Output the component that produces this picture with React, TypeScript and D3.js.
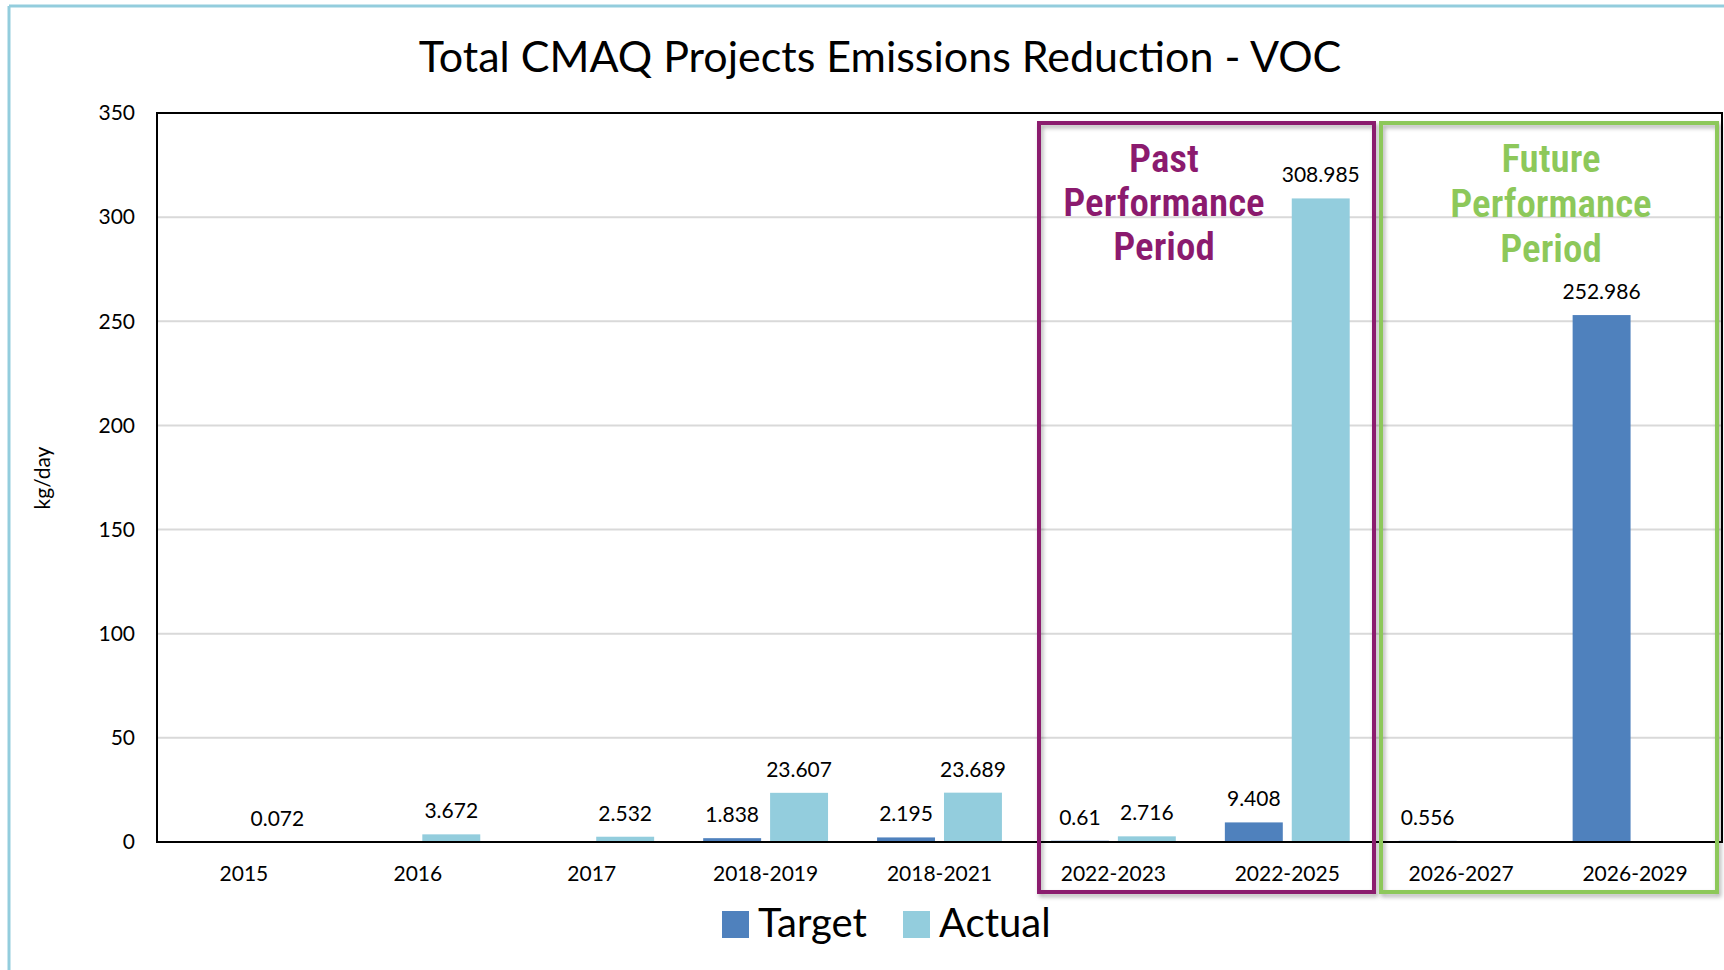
import React from "react";
import * as d3 from "d3";

const categories = ["2015", "2016", "2017", "2018-2019", "2018-2021", "2022-2023", "2022-2025", "2026-2027", "2026-2029"];
const targetValues: (number | null)[] = [null, null, null, 1.838, 2.195, 0.61, 9.408, 0.556, 252.986];
const actualValues: (number | null)[] = [0.072, 3.672, 2.532, 23.607, 23.689, 2.716, 308.985, null, null];
const seriesNames = ["Target", "Actual"];
const seriesColors = ["#4F81BD", "#93CDDD"];
const yTicks = [0, 50, 100, 150, 200, 250, 300, 350];
const pastLines = ["Past", "Performance", "Period"];
const futureLines = ["Future", "Performance", "Period"];

const W = 1724;
const H = 970;
const left = 157;
const right = 1722;
const top = 113;
const bottom = 842;
const font = "Lato, 'Open Sans', sans-serif";
const boxFont = "'Liberation Sans Narrow', 'Roboto Condensed', 'Liberation Sans', sans-serif";

export default function App() {
  const x0 = d3.scaleBand<string>().domain(categories).range([left, right]).paddingInner(0).paddingOuter(0);
  const bw = x0.bandwidth();
  const x1 = d3.scaleBand<string>().domain(seriesNames).range([0.141 * bw, 0.859 * bw]).paddingInner(0.134);
  const y = d3.scaleLinear().domain([0, 350]).range([bottom, top]);
  const series = [targetValues, actualValues];

  return (
    <svg width={W} height={H} style={{ position: "absolute", left: 0, top: 0, background: "#fff" }}>
      <defs>
        <filter id="shadow" x="-5%" y="-5%" width="110%" height="110%">
          <feDropShadow dx="2" dy="3" stdDeviation="2" floodColor="#000" floodOpacity="0.3" />
        </filter>
      </defs>
      <rect x={0} y={0} width={W} height={H} fill="#fff" />
      {/* outer frame */}
      <line x1={9} y1={6} x2={W} y2={6} stroke="#93CDDD" strokeWidth={3} />
      <line x1={9} y1={6} x2={9} y2={H} stroke="#93CDDD" strokeWidth={3} />

      <text x={880} y={72} textAnchor="middle" fontFamily={font} fontSize={43} fill="#000">
        Total CMAQ Projects Emissions Reduction - VOC
      </text>

      {/* grid */}
      {yTicks.map((t) => (
        <g key={t}>
          {t > 0 && t < 350 && (
            <line x1={left} x2={right} y1={y(t)} y2={y(t)} stroke="#D9D9D9" strokeWidth={2} />
          )}
          <text x={135} y={y(t)} dy="0.35em" textAnchor="end" fontFamily={font} fontSize={21} fill="#000">
            {t}
          </text>
        </g>
      ))}

      {/* bars */}
      {categories.map((c, i) => (
        <g key={c}>
          {series.map((vals, s) => {
            const v = vals[i];
            if (v === null) return null;
            const bx = x0(c)! + x1(seriesNames[s])!;
            return (
              <g key={s}>
                <rect x={bx} y={y(v)} width={x1.bandwidth()} height={bottom - y(v)} fill={seriesColors[s]} />
                <text x={bx + x1.bandwidth() / 2} y={y(v) - 16} textAnchor="middle" fontFamily={font} fontSize={21} fill="#000">
                  {v}
                </text>
              </g>
            );
          })}
          <text x={x0(c)! + bw / 2} y={881} textAnchor="middle" fontFamily={font} fontSize={21} fill="#000">
            {c}
          </text>
        </g>
      ))}

      {/* plot frame */}
      <rect x={left} y={top} width={right - left} height={bottom - top} fill="none" stroke="#000" strokeWidth={2} />

      <text transform={`translate(50,478) rotate(-90)`} textAnchor="middle" fontFamily={font} fontSize={21} fill="#000">
        kg/day
      </text>

      {/* period boxes */}
      <rect x={1039} y={123} width={335} height={769} fill="none" stroke="#8B1A6E" strokeWidth={4} filter="url(#shadow)" />
      <rect x={1381} y={123} width={336} height={769} fill="none" stroke="#8DC85A" strokeWidth={4} filter="url(#shadow)" />
      {pastLines.map((l, i) => (
        <text key={"p" + i} x={1164} y={172 + i * 44} textAnchor="middle" fontFamily={boxFont} fontWeight={600} fontSize={39} fill="#8B1A6E">
          {l}
        </text>
      ))}
      {futureLines.map((l, i) => (
        <text key={"f" + i} x={1551} y={172 + i * 45} textAnchor="middle" fontFamily={boxFont} fontWeight={600} fontSize={39} fill="#8DC85A">
          {l}
        </text>
      ))}

      {/* legend */}
      {seriesNames.map((n, i) => (
        <g key={n} transform={`translate(${722 + i * 181},911)`}>
          <rect x={0} y={0} width={27} height={27} fill={seriesColors[i]} />
          <text x={36} y={26} fontFamily={font} fontSize={40} fill="#000">
            {n}
          </text>
        </g>
      ))}
    </svg>
  );
}
